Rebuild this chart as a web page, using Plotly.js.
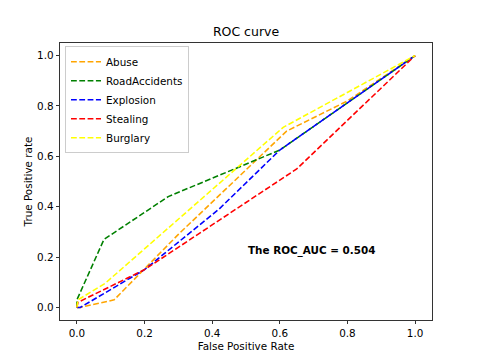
<!DOCTYPE html>
<html>
<head>
<meta charset="utf-8">
<script src="https://cdn.plot.ly/plotly-3.0.1.min.js"></script>
<style>html,body{margin:0;padding:0;background:#fff;}#chart{width:480px;height:360px;}</style>
</head>
<body>
<div id="chart"></div>
<script>
// Data
const seriesNames = ["Abuse", "RoadAccidents", "Explosion", "Stealing", "Burglary"];
const seriesColors = ["orange", "green", "blue", "red", "yellow"];

const abuseFPR = [0, 0.01, 0.11, 0.30, 0.62, 0.80, 1];
const abuseTPR = [0, 0, 0.03, 0.29, 0.70, 0.82, 1];

const roadFPR = [0, 0, 0.08, 0.27, 0.60, 1];
const roadTPR = [0, 0.03, 0.27, 0.44, 0.625, 1];

const explosionFPR = [0, 0.01, 0.20, 0.42, 0.60, 1];
const explosionTPR = [0, 0, 0.15, 0.39, 0.625, 1];

const stealingFPR = [0, 0.003, 0.20, 0.65, 1];
const stealingTPR = [0, 0.02, 0.15, 0.55, 1];

const burglaryFPR = [0, 0.003, 0.083, 0.61, 1];
const burglaryTPR = [0, 0.03, 0.095, 0.715, 1];

const tickValues = [0, 0.2, 0.4, 0.6, 0.8, 1.0];
const tickLabels = ["0.0", "0.2", "0.4", "0.6", "0.8", "1.0"];

const aucText = "The ROC_AUC = 0.504";
const aucPos = [0.5, 0.2];

const xs = [abuseFPR, roadFPR, explosionFPR, stealingFPR, burglaryFPR];
const ys = [abuseTPR, roadTPR, explosionTPR, stealingTPR, burglaryTPR];

const FONT = "DejaVu Sans, sans-serif";

const traces = seriesNames.map((name, i) => ({
  type: "scatter",
  mode: "lines",
  name: name,
  x: xs[i],
  y: ys[i],
  line: { color: seriesColors[i], width: 1.56, dash: "5.8px,2.5px" }
}));

const axisCommon = {
  range: [-0.05, 1.05],
  tickmode: "array",
  tickvals: tickValues,
  ticktext: tickLabels,
  showgrid: false,
  zeroline: false,
  showline: true,
  mirror: true,
  linecolor: "black",
  linewidth: 0.8,
  ticks: "outside",
  ticklen: 3.5,
  tickwidth: 0.8,
  tickcolor: "black",
  tickfont: { family: FONT, size: 10.4, color: "black" },
  automargin: false
};

const layout = {
  width: 480,
  height: 360,
  margin: { l: 60, r: 48, t: 43.2, b: 39.6, pad: 0 },
  paper_bgcolor: "white",
  plot_bgcolor: "white",
  font: { family: FONT, size: 10.4, color: "black" },
  title: {
    text: "ROC curve",
    font: { family: FONT, size: 12.5, color: "black" },
    x: 0.5, xref: "paper", xanchor: "center",
    y: 1 - 32 / 360, yref: "container", yanchor: "middle"
  },
  xaxis: Object.assign({}, axisCommon, {
    title: { text: "False Positive Rate", font: { family: FONT, size: 10.4, color: "black" }, standoff: 4 }
  }),
  yaxis: Object.assign({}, axisCommon, {
    title: { text: "True Positive rate", font: { family: FONT, size: 10.4, color: "black" }, standoff: 2 }
  }),
  showlegend: true,
  legend: {
    x: 5 / 372, y: (320 - 46) / 277.2, xanchor: "left", yanchor: "top",
    xref: "paper", yref: "paper",
    bgcolor: "rgba(255,255,255,0.8)",
    bordercolor: "#cccccc",
    borderwidth: 1,
    font: { family: FONT, size: 10.4, color: "black" },
    itemwidth: 30,
    tracegroupgap: 0
  },
  annotations: [{
    text: "<b>" + aucText + "</b>",
    x: aucPos[0], y: aucPos[1], xref: "x", yref: "y",
    xanchor: "left", yanchor: "bottom",
    yshift: -2,
    showarrow: false,
    font: { family: FONT, size: 10.4, color: "black" }
  }]
};

Plotly.newPlot("chart", traces, layout, { staticPlot: true, displayModeBar: false });
</script>
</body>
</html>
